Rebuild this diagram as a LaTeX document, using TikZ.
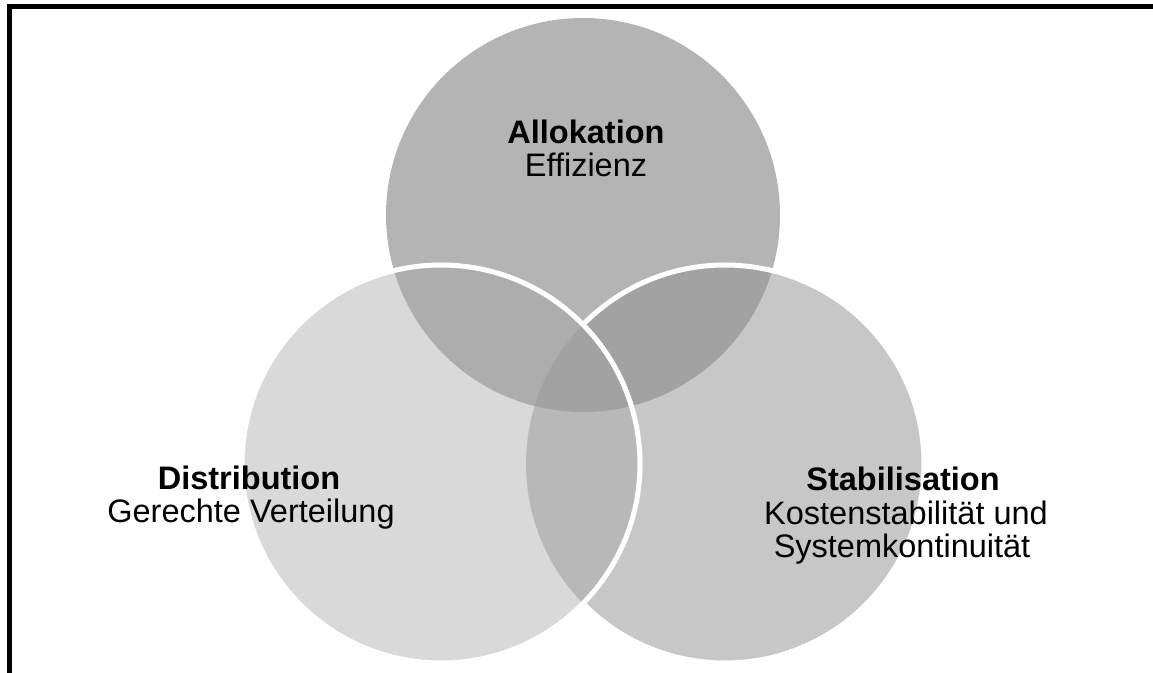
\documentclass[tikz,border=0pt]{standalone}
\usepackage{fontspec}
\setmainfont{Liberation Sans}
\usepackage{xcolor}
\usepackage{tikz}
\definecolor{AlloGrey}{gray}{0.706}
\definecolor{StabGrey}{gray}{0.573}
\definecolor{DistGrey}{gray}{0.640}

\begin{document}
\begin{tikzpicture}[x=1pt,y=-1pt,
  txt/.style={anchor=base,inner sep=0pt,font=\fontsize{32.5}{36}\selectfont},
  head/.style={txt,font=\fontsize{32.5}{36}\selectfont\bfseries},
  rim/.style={white,line width=5pt}]
  \clip (0,0) rectangle (1153,672);
  \coordinate (allo) at (583,215);
  \coordinate (dist) at (441,464);
  \coordinate (stab) at (725,464);
  \fill[AlloGrey] (allo) circle (197);
  \fill[StabGrey,fill opacity=0.51] (stab) circle (199);
  \fill[DistGrey,fill opacity=0.41] (dist) circle (199);
  \begin{scope}[even odd rule]
    \clip (0,0) rectangle (1153,672) (dist) circle (199);
    \draw[rim] (stab) circle (199);
  \end{scope}
  \draw[rim] (dist) circle (199);
  \draw[line width=5pt] (9,690) -- (9,6.7) -- (1170,6.7);
  \node[head] (alloH) at (586,143) {Allokation};
  \node[txt] (alloT) at (586,176) {Effizienz};
  \node[head] (distH) at (249,489) {Distribution};
  \node[txt] (distT) at (251,522) {Gerechte Verteilung};
  \node[head] (stabH) at (903,490) {Stabilisation};
  \node[txt] (stabT) at (906,524) {Kostenstabilität und};
  \node[txt] (stabU) at (902,557) {Systemkontinuität};
\end{tikzpicture}
\end{document}
